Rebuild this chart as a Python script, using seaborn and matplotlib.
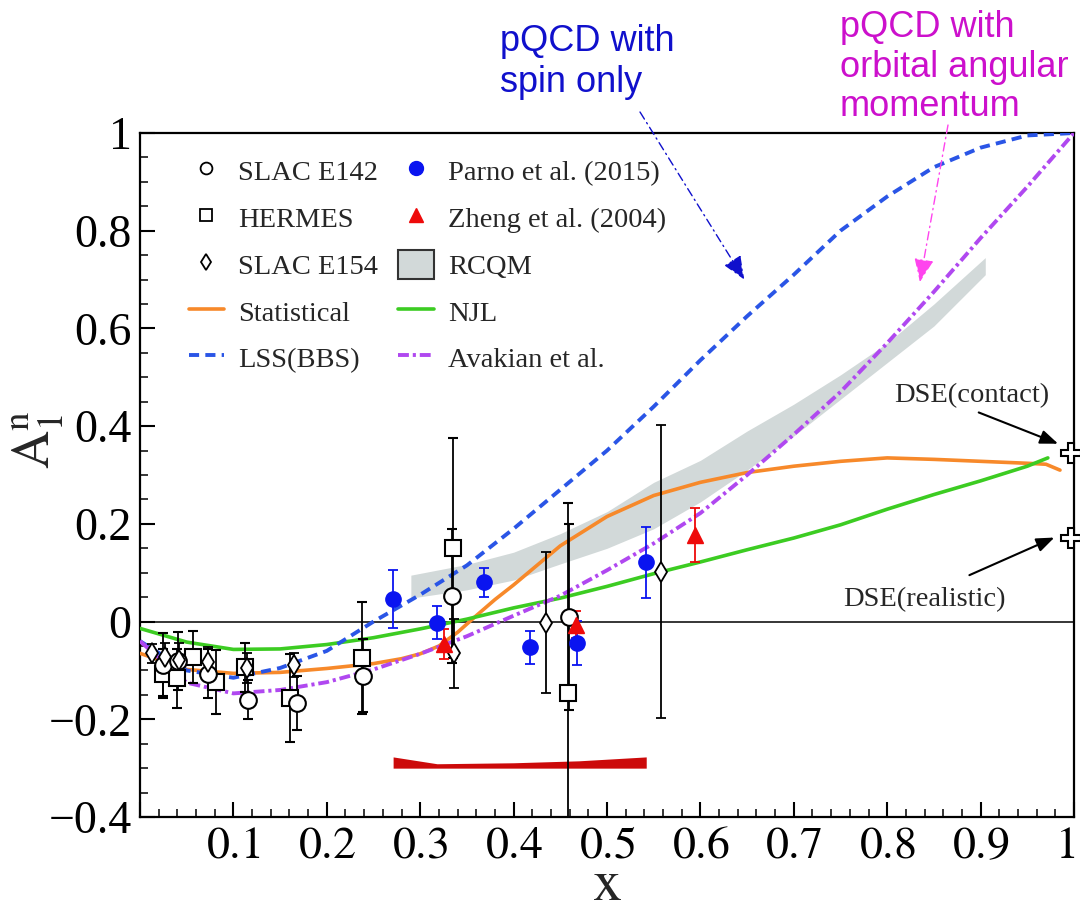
import numpy as np
import matplotlib
matplotlib.use("Agg")
import matplotlib.pyplot as plt
import matplotlib.transforms as mtransforms
import seaborn as sns
from matplotlib.lines import Line2D
from matplotlib.patches import Patch
from matplotlib.ticker import FixedLocator, MultipleLocator, FuncFormatter

# ---------------- data ----------------
# SLAC E142 (open circles)
e142_x = [0.025, 0.041, 0.073, 0.116, 0.168, 0.239, 0.334, 0.459]
e142_y = [-0.088, -0.081, -0.107, -0.160, -0.167, -0.111, 0.053, 0.009]
e142_e = [0.065, 0.060, 0.050, 0.040, 0.055, 0.075, 0.137, 0.190]

# HERMES (open squares)
herm_x = [0.025, 0.040, 0.057, 0.081, 0.112, 0.161, 0.238, 0.335, 0.458]
herm_y = [-0.107, -0.116, -0.073, -0.124, -0.094, -0.157, -0.074, 0.150, -0.147]
herm_e = [0.050, 0.060, 0.053, 0.066, 0.050, 0.090, 0.115, 0.225, 0.390]

# SLAC E154 (open diamonds)
e154_x = [0.013, 0.027, 0.042, 0.073, 0.115, 0.165, 0.336, 0.435, 0.558]
e154_y = [-0.065, -0.073, -0.079, -0.083, -0.095, -0.089, -0.065, -0.002, 0.102]
e154_e = [0.020, 0.030, 0.035, 0.030, 0.030, 0.025, 0.070, 0.144, 0.300]

# Parno et al. (2015)
parno_x = [0.271, 0.318, 0.368, 0.418, 0.468, 0.542]
parno_y = [0.046, -0.002, 0.080, -0.053, -0.043, 0.121]
parno_e = [0.060, 0.034, 0.030, 0.033, 0.045, 0.072]

# Zheng et al. (2004)
zheng_x = [0.325, 0.467, 0.594]
zheng_y = [-0.046, -0.006, 0.177]
zheng_e = [0.030, 0.027, 0.055]

# Parno systematic band
sys_x = [0.271, 0.318, 0.400, 0.470, 0.542]
sys_top = [-0.277, -0.291, -0.289, -0.285, -0.277]
sys_bot = [-0.300, -0.300, -0.300, -0.300, -0.300]

# RCQM band
rcqm_x = [0.29, 0.35, 0.40, 0.45, 0.50, 0.55, 0.60, 0.65, 0.70, 0.75, 0.80, 0.85, 0.905]
rcqm_lo = [0.048, 0.065, 0.085, 0.118, 0.150, 0.190, 0.245, 0.310, 0.380, 0.455, 0.530, 0.605, 0.710]
rcqm_hi = [0.095, 0.117, 0.142, 0.180, 0.225, 0.285, 0.330, 0.390, 0.445, 0.505, 0.570, 0.650, 0.745]

# Statistical model
stat_x = [0.0, 0.05, 0.10, 0.15, 0.20, 0.25, 0.28, 0.30, 0.32, 0.34, 0.36, 0.38, 0.40, 0.45, 0.50,
          0.55, 0.60, 0.65, 0.70, 0.75, 0.80, 0.85, 0.90, 0.95, 0.97, 0.985]
stat_y = [-0.065, -0.098, -0.106, -0.104, -0.096, -0.086, -0.076, -0.066, -0.050, -0.022, 0.012,
          0.045, 0.075, 0.155, 0.215, 0.258, 0.285, 0.305, 0.318, 0.328, 0.335, 0.332, 0.328,
          0.324, 0.322, 0.310]

# NJL
njl_x = [0.0, 0.05, 0.10, 0.15, 0.20, 0.25, 0.30, 0.35, 0.40, 0.45, 0.50,
         0.55, 0.60, 0.65, 0.70, 0.75, 0.80, 0.85, 0.90, 0.95, 0.972]
njl_y = [-0.014, -0.042, -0.057, -0.056, -0.047, -0.033, -0.015, 0.005, 0.028, 0.048, 0.072,
         0.098, 0.122, 0.147, 0.171, 0.198, 0.230, 0.260, 0.288, 0.318, 0.335]

# LSS(BBS)
lss_x = [0.0, 0.05, 0.10, 0.15, 0.20, 0.25, 0.30, 0.35, 0.40, 0.45, 0.50,
         0.55, 0.60, 0.65, 0.70, 0.75, 0.80, 0.85, 0.90, 0.95, 1.0]
lss_y = [-0.040, -0.100, -0.115, -0.095, -0.060, 0.000, 0.055, 0.115, 0.190, 0.270, 0.350,
         0.440, 0.535, 0.625, 0.710, 0.800, 0.870, 0.930, 0.970, 0.995, 1.000]

# Avakian et al.
avk_x = [0.0, 0.05, 0.10, 0.15, 0.20, 0.25, 0.30, 0.35, 0.40, 0.45, 0.50,
         0.55, 0.60, 0.65, 0.70, 0.75, 0.80, 0.85, 0.90, 0.95, 1.0]
avk_y = [-0.040, -0.125, -0.147, -0.140, -0.124, -0.098, -0.066, -0.030, 0.012, 0.053, 0.105,
         0.160, 0.222, 0.300, 0.383, 0.470, 0.570, 0.675, 0.785, 0.890, 1.000]

# DSE predictions at x = 1
dse_x = [0.997, 0.997]
dse_y = [0.345, 0.172]

x_ticks = [0.0, 0.1, 0.2, 0.3, 0.4, 0.5, 0.6, 0.7, 0.8, 0.9, 1.0]
x_ticklabels = ["", "0.1", "0.2", "0.3", "0.4", "0.5", "0.6", "0.7", "0.8", "0.9", "1"]
y_ticks = [-0.4, -0.2, 0.0, 0.2, 0.4, 0.6, 0.8, 1.0]

# ---------------- style ----------------
sns.set_theme(style="ticks")
plt.rcParams["font.family"] = ["Liberation Serif", "DejaVu Serif"]
plt.rcParams["mathtext.fontset"] = "stix"

c_orange = "#f7892a"
c_green = "#3ccc22"
c_lss = "#2a55e6"
c_avk = "#b048f0"
c_gray = "#d2d9d9"
c_blue = "#0a14f0"
c_red = "#ee0a0a"

ls_lss = (0, (2.6, 1.6))
ls_avk = (0, (2.8, 1.0, 0.8, 1.0))

fig = plt.figure(figsize=(10.8, 9.1), dpi=100)
ax = fig.add_axes([140 / 1080, 1 - 817 / 910, (1074 - 140) / 1080, (817 - 133) / 910])

ax.set_xlim(0, 1)
ax.set_ylim(-0.4, 1.0)

ax.axhline(0, color="black", linewidth=1.1, zorder=1)

# RCQM band
ax.fill_between(rcqm_x, rcqm_lo, rcqm_hi, color=c_gray, linewidth=0, zorder=1.5)
# systematic band
ax.fill_between(sys_x, sys_bot, sys_top, color="#cc0a0a", linewidth=0, zorder=2)

# model curves
sns.lineplot(x=stat_x, y=stat_y, ax=ax, color=c_orange, linewidth=2.6, zorder=3, sort=False)
sns.lineplot(x=njl_x, y=njl_y, ax=ax, color=c_green, linewidth=2.6, zorder=3, sort=False)
sns.lineplot(x=lss_x, y=lss_y, ax=ax, color=c_lss, linewidth=2.8, zorder=3, sort=False,
             linestyle=ls_lss)
sns.lineplot(x=avk_x, y=avk_y, ax=ax, color=c_avk, linewidth=2.8, zorder=3, sort=False,
             linestyle=ls_avk)

# data points
eb = dict(elinewidth=1.3, capsize=3.5, capthick=1.3, zorder=4)
ax.errorbar(herm_x, herm_y, yerr=herm_e, fmt="s", ms=11.5, mfc="white", mec="black",
            mew=1.5, ecolor="black", **eb)
ax.errorbar(e142_x, e142_y, yerr=e142_e, fmt="o", ms=12, mfc="white", mec="black",
            mew=1.5, ecolor="black", **eb)
ax.errorbar(e154_x, e154_y, yerr=e154_e, fmt="d", ms=10, mfc="white", mec="black",
            mew=1.3, ecolor="black", **eb)
ax.errorbar(parno_x, parno_y, yerr=parno_e, fmt="o", ms=11, mfc=c_blue, mec=c_blue,
            ecolor=c_blue, **eb)
ax.errorbar(zheng_x, zheng_y, yerr=zheng_e, fmt="^", ms=11, mfc=c_red, mec=c_red,
            ecolor=c_red, **eb)

# DSE crosses
ax.plot(dse_x, dse_y, ls="none", marker="P", ms=14, mfc="white", mec="black", mew=1.5,
        clip_on=False, zorder=6)

ax.text(0.89, 0.463, "DSE(contact)", fontsize=20.5, ha="center", va="center")
ax.text(0.84, 0.045, "DSE(realistic)", fontsize=20.5, ha="center", va="center")
ax.annotate("", xy=(0.983, 0.364), xytext=(0.898, 0.428),
            arrowprops=dict(arrowstyle="-|>,head_length=0.9,head_width=0.35",
                            color="black", lw=1.5, shrinkA=0, shrinkB=0))
ax.annotate("", xy=(0.979, 0.172), xytext=(0.888, 0.095),
            arrowprops=dict(arrowstyle="-|>,head_length=0.9,head_width=0.35",
                            color="black", lw=1.5, shrinkA=0, shrinkB=0))

# pQCD annotations outside the axes
fig.text(500 / 1080, 1 - 24 / 910, "pQCD with\nspin only", color="#1010cc",
         family=["Liberation Sans", "DejaVu Sans"], fontsize=26, ha="left", va="top",
         linespacing=1.22)
fig.text(840 / 1080, 1 - 10 / 910, "pQCD with\norbital angular\nmomentum", color="#cc10cc",
         family=["Liberation Sans", "DejaVu Sans"], fontsize=26, ha="left", va="top",
         linespacing=1.17)
ax.annotate("", xy=(0.647, 0.700), xycoords="data",
            xytext=(640, 910 - 112), textcoords="figure pixels",
            annotation_clip=False,
            arrowprops=dict(arrowstyle="-|>,head_length=1.2,head_width=0.5",
                            color="#1010cc", lw=1.0, ls=(0, (6, 3, 1, 3)),
                            shrinkA=0, shrinkB=0))
ax.annotate("", xy=(0.835, 0.695), xycoords="data",
            xytext=(948, 910 - 125), textcoords="figure pixels",
            annotation_clip=False,
            arrowprops=dict(arrowstyle="-|>,head_length=1.2,head_width=0.5",
                            color="#ff44ee", lw=1.0, ls=(0, (6, 3, 1, 3)),
                            shrinkA=0, shrinkB=0))

# axes styling
for s in ax.spines.values():
    s.set_linewidth(1.6)
    s.set_color("black")

ax.xaxis.set_major_locator(FixedLocator(x_ticks))
ax.set_xticklabels([rf"$\mathrm{{{t}}}$" if t else "" for t in x_ticklabels])
ax.xaxis.set_minor_locator(MultipleLocator(0.02))
ax.yaxis.set_major_locator(FixedLocator(y_ticks))
ax.yaxis.set_minor_locator(MultipleLocator(0.05))


def yfmt(v, pos):
    if abs(v) < 1e-9:
        return "0"
    if abs(v - 1) < 1e-9:
        return "1"
    return f"{v:.1f}".replace("-", "\u2212")


ax.yaxis.set_major_formatter(FuncFormatter(yfmt))
ax.tick_params(axis="both", which="major", direction="in", length=11, width=1.5,
               labelsize=33, top=False, right=False, colors="black")
ax.tick_params(axis="both", which="minor", direction="in", length=6, width=1.3,
               top=False, right=False)
ax.tick_params(axis="x", which="major", pad=6)
ax.tick_params(axis="y", which="major", pad=6)

# shift the last x tick label ("1") slightly left so it stays inside the figure
last_lab = ax.get_xticklabels()[-1]
last_lab.set_transform(last_lab.get_transform() +
                       mtransforms.ScaledTranslation(-9 / 100, 0, fig.dpi_scale_trans))

ax.set_xlabel(r"$\mathrm{x}$", fontsize=42, va="baseline")
ax.xaxis.set_label_coords(0.5, (817 - 900) / 684)
ax.set_ylabel(r"$\mathrm{A}_1^{\mathrm{n}}$", fontsize=38)
ax.yaxis.set_label_coords((66 - 140) / 935, (817 - 440) / 684)

# legend
handles = [
    Line2D([], [], ls="none", marker="o", ms=8.5, mfc="white", mec="black", mew=1.3),
    Line2D([], [], ls="none", marker="s", ms=8.5, mfc="white", mec="black", mew=1.3),
    Line2D([], [], ls="none", marker="d", ms=8.5, mfc="white", mec="black", mew=1.3),
    Line2D([], [], color=c_orange, linewidth=2.6),
    Line2D([], [], color=c_lss, linewidth=2.8, ls=ls_lss),
    Line2D([], [], ls="none", marker="o", ms=10, mfc=c_blue, mec=c_blue),
    Line2D([], [], ls="none", marker="^", ms=10, mfc=c_red, mec=c_red),
    Patch(facecolor=c_gray, edgecolor="#333333", linewidth=1.5),
    Line2D([], [], color=c_green, linewidth=2.6),
    Line2D([], [], color=c_avk, linewidth=2.8, ls=ls_avk),
]
labels = ["SLAC E142", "HERMES", "SLAC E154", "Statistical", "LSS(BBS)",
          "Parno et al. (2015)", "Zheng et al. (2004)", "RCQM", "NJL", "Avakian et al."]
ax.legend(handles, labels, ncol=2, loc="upper left", bbox_to_anchor=(0.052, 0.966),
          frameon=False, fontsize=20.5, handlelength=1.25, handleheight=1.2,
          labelspacing=0.58, handletextpad=0.5, columnspacing=0.7,
          borderaxespad=0, borderpad=0)

fig.savefig("out.png", dpi=100)
